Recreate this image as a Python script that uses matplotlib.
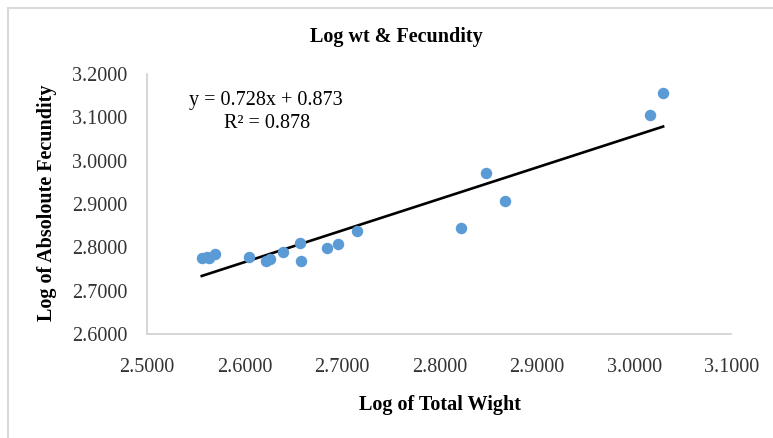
import numpy as np
import matplotlib
matplotlib.use("Agg")
import matplotlib.pyplot as plt
from matplotlib.patches import Rectangle

plt.rcParams["font.family"] = ["Liberation Serif", "DejaVu Serif"]

# log of total weight vs log of absolute fecundity
log_weight = [2.5562, 2.5613, 2.5637, 2.5698, 2.6047, 2.6219, 2.6263, 2.6393, 2.6568,
              2.6578, 2.6845, 2.6964, 2.7153, 2.8221, 2.8480, 2.8679, 3.0167, 3.0298]
log_fecundity = [2.7762, 2.7785, 2.7755, 2.7848, 2.7785, 2.7693, 2.7739, 2.7887, 2.8109,
                 2.7693, 2.7993, 2.8072, 2.8386, 2.8455, 2.9725, 2.9065, 3.1058, 3.1559]

slope, intercept = 0.728, 0.873
r_squared = 0.878

x_ticks = [2.5, 2.6, 2.7, 2.8, 2.9, 3.0, 3.1]
y_ticks = [2.6, 2.7, 2.8, 2.9, 3.0, 3.1, 3.2]

fig = plt.figure(figsize=(7.73, 4.38), dpi=100)
ax = fig.add_axes([0.1902, 0.2374, 0.7561, 0.5937])

# chart border (only top and left visible in the crop)
fig.patches.append(Rectangle((8 / 773, -0.2), 1.2, 1.2 - 8 / 438,
                             transform=fig.transFigure, fill=False,
                             edgecolor="#d9d9d9", linewidth=1.5))

ax.scatter(log_weight, log_fecundity, s=68, color="#5b9bd5", zorder=3, linewidths=0)

xs = np.array([min(log_weight), max(log_weight)])
ax.plot(xs, slope * xs + intercept, color="black", linewidth=1.9, zorder=2)

ax.set_xlim(2.5, 3.1)
ax.set_ylim(2.6, 3.2)
ax.set_xticks(x_ticks)
ax.set_yticks(y_ticks)
ax.xaxis.set_major_formatter(plt.FuncFormatter(lambda v, p: f"{v:.4f}"))
ax.yaxis.set_major_formatter(plt.FuncFormatter(lambda v, p: f"{v:.4f}"))
ax.tick_params(length=0, labelsize=14.5, labelcolor="#333333")
ax.tick_params(axis="x", pad=17)
ax.tick_params(axis="y", pad=14)

for side in ["top", "right"]:
    ax.spines[side].set_visible(False)
for side in ["left", "bottom"]:
    ax.spines[side].set_color("#d0d0d0")
    ax.spines[side].set_linewidth(1.2)

fig.text(396 / 773, 1 - 37 / 438, "Log wt & Fecundity", ha="center", va="center",
         fontsize=14.5, fontweight="bold")
fig.text(440 / 773, 1 - 405 / 438, "Log of Total Wight", ha="center", va="center",
         fontsize=14.5, fontweight="bold")
fig.text(47 / 773, 1 - 203 / 438, "Log of Absoloute Fecundity", ha="center", va="center",
         rotation=90, fontsize=14.5, fontweight="bold")

fig.text(266 / 773, 1 - 100 / 438, f"y = {slope}x + {intercept}", ha="center",
         va="center", fontsize=14.5)
fig.text(267 / 773, 1 - 123 / 438, f"R\u00b2 = {r_squared}", ha="center",
         va="center", fontsize=14.5)

fig.savefig("out.png", dpi=100)
